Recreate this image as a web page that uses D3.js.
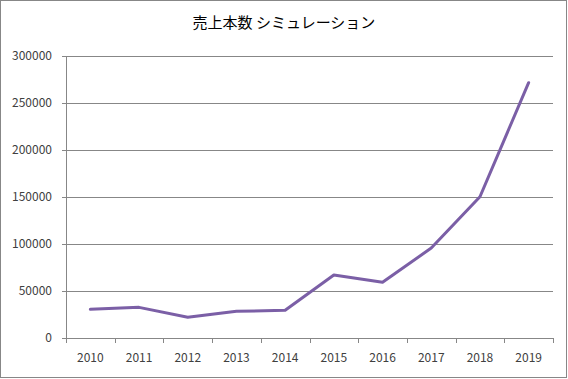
<!DOCTYPE html>
<html>
<head>
<meta charset="utf-8">
<script src="https://cdn.jsdelivr.net/npm/d3@7"></script>
<style>
  body { margin: 0; background: #fff; }
  text { font-family: "Noto Sans CJK JP", "Noto Sans", sans-serif; }
</style>
</head>
<body>
<script>
// data
var years = ["2010", "2011", "2012", "2013", "2014", "2015", "2016", "2017", "2018", "2019"];
var sales = [30500, 32600, 22000, 28400, 29500, 67000, 59300, 95700, 150300, 271600];
var yTicks = [0, 50000, 100000, 150000, 200000, 250000, 300000];
var title = "売上本数 シミュレーション";

var width = 568,
    height = 379;
var margin = {top: 56, right: 15, bottom: 41, left: 66};

var svg = d3.select("body")
    .append("svg")
    .attr("width", width)
    .attr("height", height);

// outer frame
svg.append("rect")
    .attr("x", 0.5).attr("y", 0.5)
    .attr("width", 566).attr("height", 377)
    .attr("fill", "#fff")
    .attr("stroke", "#878787");

var x = d3.scaleBand()
    .domain(years)
    .range([margin.left, width - margin.right]);

var y = d3.scaleLinear()
    .domain([0, 300000])
    .range([height - margin.bottom, margin.top]);

// gridlines
svg.append("g")
    .selectAll("line")
    .data(yTicks)
    .enter()
    .append("line")
    .attr("x1", margin.left - 4)
    .attr("x2", width - margin.right)
    .attr("y1", function(d){ return Math.round(y(d)) + 0.5; })
    .attr("y2", function(d){ return Math.round(y(d)) + 0.5; })
    .attr("stroke", "#878787");

// y axis line
svg.append("line")
    .attr("x1", margin.left + 0.5).attr("x2", margin.left + 0.5)
    .attr("y1", margin.top).attr("y2", height - margin.bottom)
    .attr("stroke", "#878787");

// y labels
svg.append("g")
    .selectAll("text")
    .data(yTicks)
    .enter()
    .append("text")
    .attr("x", 52)
    .attr("y", function(d){ return y(d); })
    .attr("dy", "0.35em")
    .attr("text-anchor", "end")
    .attr("font-size", 12)
    .attr("fill", "#404040")
    .text(function(d){ return d; });

// x ticks at category boundaries
var bounds = years.map(function(d){ return x(d); }).concat([x.range()[1]]);
svg.append("g")
    .selectAll("line")
    .data(bounds)
    .enter()
    .append("line")
    .attr("x1", function(d){ return Math.round(d) + 0.5; })
    .attr("x2", function(d){ return Math.round(d) + 0.5; })
    .attr("y1", height - margin.bottom)
    .attr("y2", height - margin.bottom + 5)
    .attr("stroke", "#878787");

// x labels
svg.append("g")
    .selectAll("text")
    .data(years)
    .enter()
    .append("text")
    .attr("x", function(d){ return x(d) + x.bandwidth() / 2; })
    .attr("y", 358)
    .attr("dy", "0.35em")
    .attr("text-anchor", "middle")
    .attr("font-size", 12)
    .attr("fill", "#404040")
    .text(function(d){ return d; });

// line
var line = d3.line()
    .x(function(d, i){ return x(years[i]) + x.bandwidth() / 2; })
    .y(function(d){ return y(d); });

svg.append("path")
    .datum(sales)
    .attr("d", line)
    .attr("fill", "none")
    .attr("stroke", "#7b5fa6")
    .attr("stroke-width", 3)
    .attr("stroke-linejoin", "round")
    .attr("stroke-linecap", "round");

// title
svg.append("text")
    .attr("x", 284)
    .attr("y", 23)
    .attr("dy", "0.35em")
    .attr("text-anchor", "middle")
    .attr("font-size", 15)
    .attr("fill", "#000")
    .text(title);
</script>
</body>
</html>
